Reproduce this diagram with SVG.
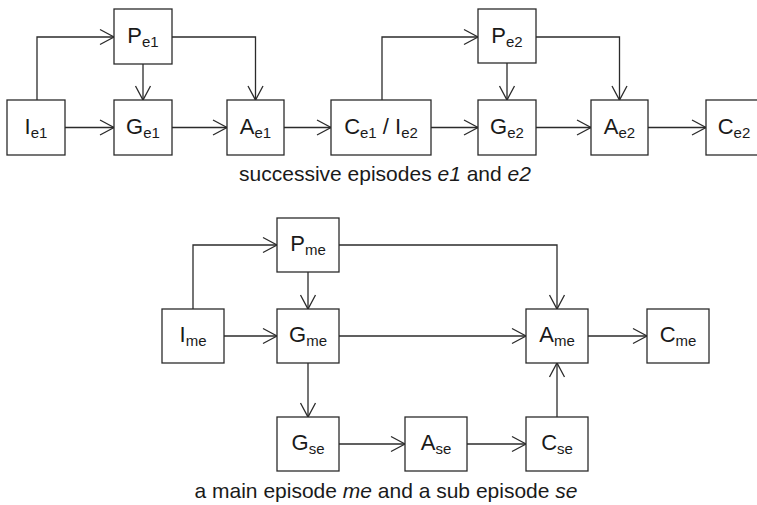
<svg xmlns="http://www.w3.org/2000/svg" width="757" height="505" viewBox="0 0 757 505">
  <defs>
    <marker id="arrow" markerUnits="userSpaceOnUse" markerWidth="20" markerHeight="20" viewBox="-16 -10 18 20" refX="0" refY="0" orient="auto">
      <path d="M-14,-7.5 L0,0 L-14,7.5" fill="none" stroke="#2b2b2b" stroke-width="1.3"/>
    </marker>
  </defs>
  <style>
    .box { fill: #ffffff; stroke: #2b2b2b; stroke-width: 1.3; }
    .lbl { font-family: "Liberation Sans", Arial, sans-serif; font-size: 22px; fill: #1a1a1a; text-anchor: middle; }
    .sub { font-size: 15px; }
    .cap { font-family: "Liberation Sans", Arial, sans-serif; font-size: 21px; fill: #1a1a1a; text-anchor: middle; }
    .edge { fill: none; stroke: #2b2b2b; stroke-width: 1.3; marker-end: url(#arrow); }
  </style>

  <rect width="757" height="505" fill="#ffffff"/>

  <!-- connectors -->
  <g id="connectors">
    <!-- successive episodes -->
    <path class="edge" d="M37,100 V37 H114"/>
    <path class="edge" d="M65,127.5 H114"/>
    <path class="edge" d="M143,64 V100"/>
    <path class="edge" d="M172,37 H255.5 V100"/>
    <path class="edge" d="M172,127.5 H227"/>
    <path class="edge" d="M284,127.5 H331"/>
    <path class="edge" d="M382,100 V37 H478"/>
    <path class="edge" d="M431,127.5 H478"/>
    <path class="edge" d="M507,63 V100"/>
    <path class="edge" d="M536,37 H619.5 V100"/>
    <path class="edge" d="M536,127.5 H591"/>
    <path class="edge" d="M648,127.5 H706"/>
    <!-- main episode and sub episode -->
    <path class="edge" d="M193,309 V245 H277"/>
    <path class="edge" d="M224,336 H277"/>
    <path class="edge" d="M308,272 V309"/>
    <path class="edge" d="M339,245 H557 V309"/>
    <path class="edge" d="M339,336 H526"/>
    <path class="edge" d="M308,363 V417"/>
    <path class="edge" d="M339,444 H405"/>
    <path class="edge" d="M467,444 H526"/>
    <path class="edge" d="M557,417 V363"/>
    <path class="edge" d="M588,336 H647"/>
  </g>

  <!-- successive episodes e1 and e2 -->
  <g id="I_e1"><rect class="box" x="7" y="100" width="58" height="55"/><text class="lbl" x="36" y="134">I<tspan class="sub" dy="4">e1</tspan></text></g>
  <g id="P_e1"><rect class="box" x="114" y="9" width="58" height="55"/><text class="lbl" x="143" y="43">P<tspan class="sub" dy="4">e1</tspan></text></g>
  <g id="G_e1"><rect class="box" x="114" y="100" width="58" height="55"/><text class="lbl" x="143" y="134">G<tspan class="sub" dy="4">e1</tspan></text></g>
  <g id="A_e1"><rect class="box" x="227" y="100" width="57" height="55"/><text class="lbl" x="255.5" y="134">A<tspan class="sub" dy="4">e1</tspan></text></g>
  <g id="C_e1_I_e2"><rect class="box" x="331" y="100" width="100" height="55"/><text class="lbl" x="381" y="134">C<tspan class="sub" dy="4">e1</tspan><tspan dy="-4"> / I</tspan><tspan class="sub" dy="4">e2</tspan></text></g>
  <g id="P_e2"><rect class="box" x="478" y="9" width="58" height="54"/><text class="lbl" x="507" y="43">P<tspan class="sub" dy="4">e2</tspan></text></g>
  <g id="G_e2"><rect class="box" x="478" y="100" width="58" height="55"/><text class="lbl" x="507" y="134">G<tspan class="sub" dy="4">e2</tspan></text></g>
  <g id="A_e2"><rect class="box" x="591" y="100" width="57" height="55"/><text class="lbl" x="619.5" y="134">A<tspan class="sub" dy="4">e2</tspan></text></g>
  <g id="C_e2"><rect class="box" x="706" y="100" width="60" height="55"/><text class="lbl" x="734" y="134">C<tspan class="sub" dy="4">e2</tspan></text></g>
  <text class="cap" x="385" y="181">successive episodes <tspan font-style="italic">e1</tspan> and <tspan font-style="italic">e2</tspan></text>

  <!-- main episode me and sub episode se -->
  <g id="P_me"><rect class="box" x="277" y="218" width="62" height="54"/><text class="lbl" x="308" y="251">P<tspan class="sub" dy="4">me</tspan></text></g>
  <g id="I_me"><rect class="box" x="162" y="309" width="62" height="54"/><text class="lbl" x="193" y="342">I<tspan class="sub" dy="4">me</tspan></text></g>
  <g id="G_me"><rect class="box" x="277" y="309" width="62" height="54"/><text class="lbl" x="308" y="342">G<tspan class="sub" dy="4">me</tspan></text></g>
  <g id="A_me"><rect class="box" x="526" y="309" width="62" height="54"/><text class="lbl" x="557" y="342">A<tspan class="sub" dy="4">me</tspan></text></g>
  <g id="C_me"><rect class="box" x="647" y="309" width="62" height="54"/><text class="lbl" x="678" y="342">C<tspan class="sub" dy="4">me</tspan></text></g>
  <g id="G_se"><rect class="box" x="277" y="417" width="62" height="54"/><text class="lbl" x="308" y="450">G<tspan class="sub" dy="4">se</tspan></text></g>
  <g id="A_se"><rect class="box" x="405" y="417" width="62" height="54"/><text class="lbl" x="436" y="450">A<tspan class="sub" dy="4">se</tspan></text></g>
  <g id="C_se"><rect class="box" x="526" y="417" width="62" height="54"/><text class="lbl" x="557" y="450">C<tspan class="sub" dy="4">se</tspan></text></g>
  <text class="cap" x="386" y="498">a main episode <tspan font-style="italic">me</tspan> and a sub episode <tspan font-style="italic">se</tspan></text>
</svg>
